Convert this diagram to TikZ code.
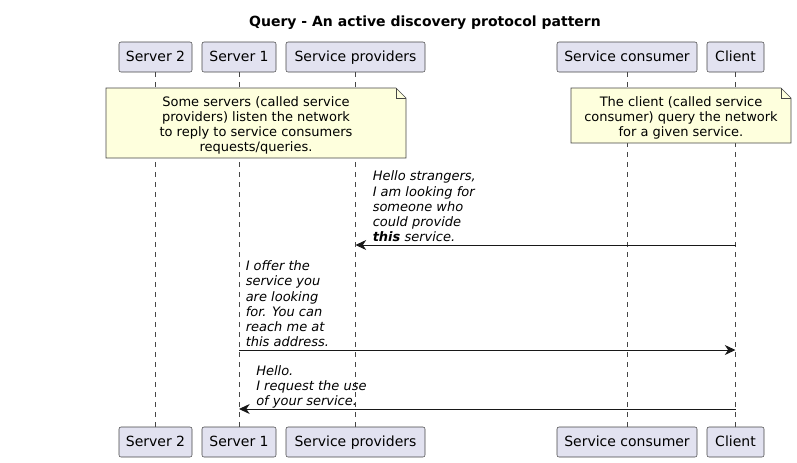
\documentclass[tikz,border=0pt]{standalone}
\usepackage{fontspec}
\setmainfont{DejaVu Sans}
\usetikzlibrary{arrows.meta}

\definecolor{partfill}{HTML}{E2E2F0}
\definecolor{notefill}{HTML}{FEFFDD}
\definecolor{umlline}{HTML}{181818}

\tikzset{
  participant/.style={draw=umlline!80, fill=partfill, rounded corners=1.5pt,
    minimum height=22.5pt, inner sep=0pt, text height=8.5pt, text depth=1.75pt,
    font=\fontsize{10.5}{12}\selectfont},
  lifeline/.style={umlline!80, dash pattern=on 3.75pt off 3.75pt, line width=0.5pt},
  msg/.style={umlline, line width=0.75pt, -{Stealth[length=8pt,width=7.5pt,inset=2.5pt]}},
  msgtext/.style={font=\fontsize{9.75}{11.4}\selectfont\itshape, align=left,
    anchor=south west, inner sep=0pt},
  notebox/.style={draw=umlline!80, fill=notefill, line width=0.5pt},
  notetext/.style={font=\fontsize{9.75}{11.4}\selectfont, align=center, inner sep=0pt},
}

\begin{document}
\begin{tikzpicture}[x=0.75pt,y=-0.75pt]
  \useasboundingbox (0,0) rectangle (797,462);

  \node[font=\fontsize{10.5}{12}\selectfont\bfseries] (title) at (425,23)
    {Query - An active discovery protocol pattern};

  % participants, top and bottom
  \node[participant, minimum width=54.75pt] (srv2) at (155.5,57) {Server 2};
  \node[participant, minimum width=55.5pt] (srv1) at (239,57) {Server 1};
  \node[participant, minimum width=104.25pt] (prov) at (355.5,57) {Service providers};
  \node[participant, minimum width=105pt] (cons) at (627,57) {Service consumer};
  \node[participant, minimum width=42.75pt] (cli) at (735.5,57) {Client};

  \node[participant, minimum width=54.75pt] (srv2b) at (155.5,442) {Server 2};
  \node[participant, minimum width=55.5pt] (srv1b) at (239,442) {Server 1};
  \node[participant, minimum width=104.25pt] (provb) at (355.5,442) {Service providers};
  \node[participant, minimum width=105pt] (consb) at (627,442) {Service consumer};
  \node[participant, minimum width=42.75pt] (clib) at (735.5,442) {Client};

  % lifelines
  \draw[lifeline] (srv2) -- (srv2b);
  \draw[lifeline] (srv1) -- (srv1b);
  \draw[lifeline] (prov) -- (provb);
  \draw[lifeline] (cons) -- (consb);
  \draw[lifeline] (cli) -- (clib);

  % notes
  \draw[notebox] (106,88) -- (396,88) -- (406,98) -- (406,158) -- (106,158) -- cycle;
  \draw[notebox, fill=none] (396,88) -- (396,98) -- (406,98);
  \node[notetext] (note1) at (256,125.5)
    {Some servers (called service\\ providers) listen the network\\
     to reply to service consumers\\ requests/queries.};

  \draw[notebox] (571,88) -- (781,88) -- (791,98) -- (791,143) -- (571,143) -- cycle;
  \draw[notebox, fill=none] (781,88) -- (781,98) -- (791,98);
  \node[notetext] (note2) at (681,118)
    {The client (called service\\ consumer) query the network\\ for a given service.};

  % messages
  \coordinate (m1a) at (735.5,245);
  \coordinate (m1b) at (355.5,245);
  \draw[msg] (m1a) -- (m1b);
  \node[msgtext] (t1) at (372.5,246.5)
    {Hello strangers,\\ I am looking for\\ someone who\\ could provide\\
     {\bfseries this} service.\strut};

  \coordinate (m2a) at (239,350);
  \coordinate (m2b) at (735.5,350);
  \draw[msg] (m2a) -- (m2b);
  \node[msgtext] (t2) at (245.5,351.5)
    {I offer the\\ service you\\ are looking\\ for. You can\\ reach me at\\
     this address.\strut};

  \coordinate (m3a) at (735.5,409);
  \coordinate (m3b) at (239,409);
  \draw[msg] (m3a) -- (m3b);
  \node[msgtext] (t3) at (256,410.5)
    {Hello.\\ I request the use\\ of your service.\strut};
\end{tikzpicture}
\end{document}
